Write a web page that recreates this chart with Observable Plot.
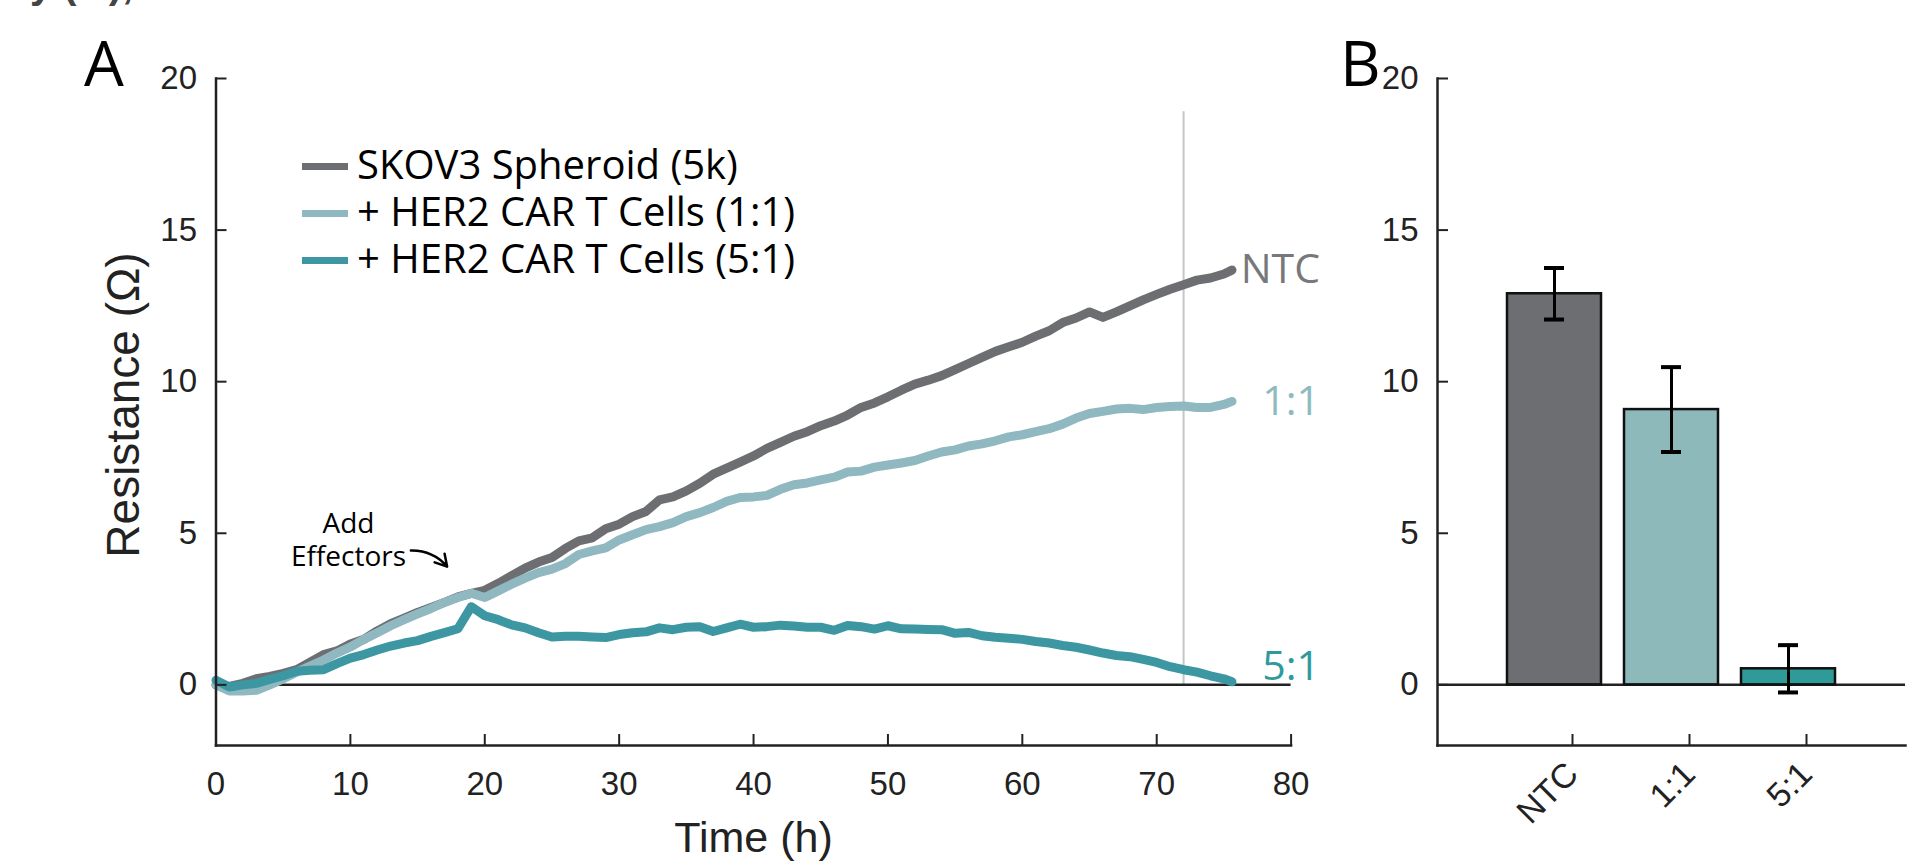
<!DOCTYPE html>
<html><head><meta charset="utf-8">
<script src="https://cdn.jsdelivr.net/npm/d3@7"></script>
<script src="https://cdn.jsdelivr.net/npm/@observablehq/plot@0.6"></script>
<style>
body{margin:0;background:#fff;width:1931px;height:862px;overflow:hidden;position:relative;font-family:"Liberation Sans",Arial,sans-serif;}
#A{position:absolute;left:0;top:0;width:1340px;height:862px}
#B{position:absolute;left:1340px;top:0;width:591px;height:862px}
svg{overflow:visible}
.panel{position:absolute;font-family:"Open Sans",sans-serif;font-size:63px;line-height:1;color:#000}
.leg{position:absolute;left:302px;font-family:"Open Sans",sans-serif;font-size:40px;line-height:44px;height:44px;color:#000;white-space:nowrap}
.leg span.sw{display:inline-block;width:46px;height:7px;vertical-align:middle;margin-right:9px;position:relative;top:-2px}
.cut{position:absolute;left:30px;top:-38px;font-family:"Liberation Sans",sans-serif;font-weight:bold;font-size:40px;color:#444}
</style></head><body>
<div class="cut">y (Ω),</div>
<div id="A"></div><div id="B"></div>
<div class="panel" style="left:84px;top:30px">A</div>
<div class="panel" style="left:1340px;top:30px">B</div>
<div id="legend"></div>
<script>
// ---------- Panel A data ----------
const times = [0,1,2,3,4,5,6,7,8,9,10,11,12,13,14,15,16,17,18,19,20,21,22,23,24,25,26,27,28,29,30,31,32,33,34,35,36,37,38,39,40,41,42,43,44,45,46,47,48,49,50,51,52,53,54,55,56,57,58,59,60,61,62,63,64,65,66,67,68,69,70,71,72,73,74,75,75.6];
const skov3 = [0.00,-0.05,0.05,0.20,0.28,0.38,0.50,0.75,1.00,1.12,1.35,1.50,1.78,2.02,2.20,2.39,2.55,2.72,2.90,3.02,3.12,3.35,3.60,3.85,4.05,4.20,4.50,4.75,4.85,5.15,5.30,5.55,5.72,6.10,6.20,6.40,6.65,6.95,7.15,7.35,7.55,7.80,8.00,8.20,8.35,8.55,8.70,8.90,9.15,9.30,9.50,9.72,9.92,10.05,10.20,10.40,10.60,10.80,11.00,11.15,11.30,11.50,11.68,11.95,12.10,12.30,12.12,12.30,12.50,12.70,12.88,13.05,13.20,13.35,13.42,13.55,13.68];
const car11 = [0.00,-0.20,-0.20,-0.18,0.00,0.20,0.42,0.62,0.82,1.05,1.25,1.50,1.72,1.95,2.15,2.34,2.52,2.72,2.88,3.02,2.88,3.10,3.32,3.52,3.70,3.82,4.00,4.30,4.42,4.52,4.78,4.95,5.12,5.22,5.35,5.55,5.68,5.85,6.05,6.18,6.20,6.25,6.45,6.60,6.66,6.76,6.85,7.02,7.05,7.18,7.25,7.32,7.40,7.55,7.68,7.75,7.88,7.95,8.05,8.18,8.25,8.35,8.45,8.60,8.80,8.95,9.02,9.10,9.12,9.08,9.15,9.18,9.20,9.15,9.15,9.25,9.35];
const car51 = [0.15,-0.07,0.00,0.05,0.18,0.30,0.45,0.48,0.50,0.70,0.88,1.00,1.15,1.28,1.38,1.46,1.60,1.72,1.85,2.58,2.28,2.15,1.98,1.88,1.72,1.58,1.60,1.60,1.58,1.56,1.66,1.72,1.75,1.88,1.82,1.90,1.92,1.76,1.88,2.00,1.90,1.92,1.97,1.94,1.90,1.90,1.80,1.96,1.92,1.84,1.95,1.85,1.84,1.83,1.82,1.70,1.73,1.62,1.57,1.54,1.50,1.43,1.38,1.30,1.24,1.15,1.05,0.97,0.93,0.84,0.74,0.60,0.50,0.42,0.30,0.20,0.10];
const seriesNames = ["SKOV3 Spheroid (5k)", "+ HER2 CAR T Cells (1:1)", "+ HER2 CAR T Cells (5:1)"];
const endLabels = ["NTC", "1:1", "5:1"];
const lineColors = ["#6d6e72", "#8fb8c1", "#3c97a3"];
const labelColors = ["#77787b", "#8fbac0", "#2f9a9e"];
const xTicksA = [0,10,20,30,40,50,60,70,80];
const yTicks = [0,5,10,15,20];
const cutoffTime = [72];
const cutoffTop = 18.9;
const annotLines = ["Add", "Effectors"];
const annotPos = [9.86, 5.3, 4.2];
const arrowFrom = [14.5, 4.43];
const arrowTo = [17.2, 3.9];

// ---------- Panel B data ----------
const barCats = ["NTC", "1:1", "5:1"];
const barMeans = [12.9, 9.08, 0.53];
const barErrs = [0.85, 1.40, 0.78];
const barColors = ["#6d6e71", "#8db9bb", "#2f9b98"];

// ---------- build ----------
const allSeries = [skov3, car11, car51].map((vals, i) =>
  times.map((t, j) => ({t, v: vals[j], s: seriesNames[i]})));
const lastPts = allSeries.map((s, i) => ({...s[s.length - 1], label: endLabels[i], color: labelColors[i]}));

const marksA = [
  Plot.ruleX(cutoffTime, {y1: 0, y2: cutoffTop, stroke: "#c6c6c6", strokeWidth: 2}),
  Plot.ruleY([0], {stroke: "#222", strokeWidth: 2.5}),
  ...allSeries.map((s, i) => Plot.line(s, {x: "t", y: "v", stroke: lineColors[i], strokeWidth: 9, strokeLinejoin: "round"})),
  ...lastPts.map((p, i) => Plot.text([p], {x: "t", y: "v", text: "label", fill: labelColors[i], textAnchor: "end", dx: 88, dy: i === 2 ? -15 : 0, fontSize: 41, fontFamily: "Open Sans"})),
  Plot.text(annotLines, {x: annotPos[0], y: (d, i) => annotPos[1 + i], text: d => d, fontSize: 28, fontFamily: "Open Sans", fill: "#000"}),
  Plot.arrow([0], {x1: arrowFrom[0], y1: arrowFrom[1], x2: arrowTo[0], y2: arrowTo[1], bend: 25, strokeWidth: 2.5, headLength: 12, stroke: "#000"}),
  Plot.frame({anchor: "left", stroke: "#222", strokeWidth: 2.5}),
  Plot.frame({anchor: "bottom", stroke: "#222", strokeWidth: 2.5}),
  Plot.axisX(xTicksA, {tickSize: -11, tickPadding: 37, fontSize: 33, label: null, stroke: "#222", strokeWidth: 2, fill: "#222"}),
  Plot.axisY(yTicks, {tickSize: -11, tickPadding: 30, fontSize: 33, label: null, stroke: "#222", strokeWidth: 2, fill: "#222"}),
  Plot.text(["Time (h)"], {frameAnchor: "bottom", dy: 106, fontSize: 43, fill: "#222", text: d => d}),
  Plot.text(["Resistance (Ω)"], {frameAnchor: "left", textAnchor: "middle", dx: -92, dy: -7, rotate: -90, fontSize: 46, fill: "#222", text: d => d})
];

const chartA = Plot.plot({
  width: 1340, height: 862,
  marginLeft: 215.5, marginRight: 49.4, marginTop: 78, marginBottom: 117,
  x: {domain: [0, 80]},
  y: {domain: [-2, 20]},
  style: {background: "transparent", overflow: "visible", fontFamily: "Liberation Sans, Arial, sans-serif"},
  marks: marksA
});
document.getElementById("A").append(chartA);

const bars = barCats.map((c, i) => ({cat: c, mean: barMeans[i], lo: barMeans[i] - barErrs[i], hi: barMeans[i] + barErrs[i], color: barColors[i]}));

const chartB = Plot.plot({
  width: 591, height: 862,
  marginLeft: 97, marginRight: 26, marginTop: 78, marginBottom: 117,
  x: {domain: barCats, paddingInner: 0.2, paddingOuter: 0.6},
  y: {domain: [-2, 20]},
  color: {type: "identity"},
  style: {background: "transparent", overflow: "visible", fontFamily: "Liberation Sans, Arial, sans-serif"},
  marks: [
    Plot.ruleY([0], {stroke: "#222", strokeWidth: 2.5}),
    Plot.barY(bars, {x: "cat", y: "mean", fill: "color", stroke: "#111", strokeWidth: 2.5}),
    Plot.ruleX(bars, {x: "cat", y1: "lo", y2: "hi", stroke: "#000", strokeWidth: 3}),
    Plot.tickY(bars, {x: "cat", y: "hi", insetLeft: 37, insetRight: 37, stroke: "#000", strokeWidth: 4}),
    Plot.tickY(bars, {x: "cat", y: "lo", insetLeft: 37, insetRight: 37, stroke: "#000", strokeWidth: 4}),
    Plot.frame({anchor: "left", stroke: "#222", strokeWidth: 2.5}),
    Plot.frame({anchor: "bottom", stroke: "#222", strokeWidth: 2.5}),
    Plot.axisX({tickSize: -11, tickPadding: 34, tickRotate: -45, fontSize: 34, dx: 18, label: null, stroke: "#222", strokeWidth: 2, fill: "#222"}),
    Plot.axisY(yTicks, {tickSize: -11, tickPadding: 30, fontSize: 33, label: null, stroke: "#222", strokeWidth: 2, fill: "#222"})
  ]
});
document.getElementById("B").append(chartB);

// legend (HTML)
const leg = document.getElementById("legend");
seriesNames.forEach((n, i) => {
  const d = document.createElement("div");
  d.className = "leg";
  d.style.top = (165 + 47 * i - 23) + "px";
  d.innerHTML = `<span class="sw" style="background:${lineColors[i]}"></span>${n}`;
  leg.append(d);
});
</script>
</body></html>
